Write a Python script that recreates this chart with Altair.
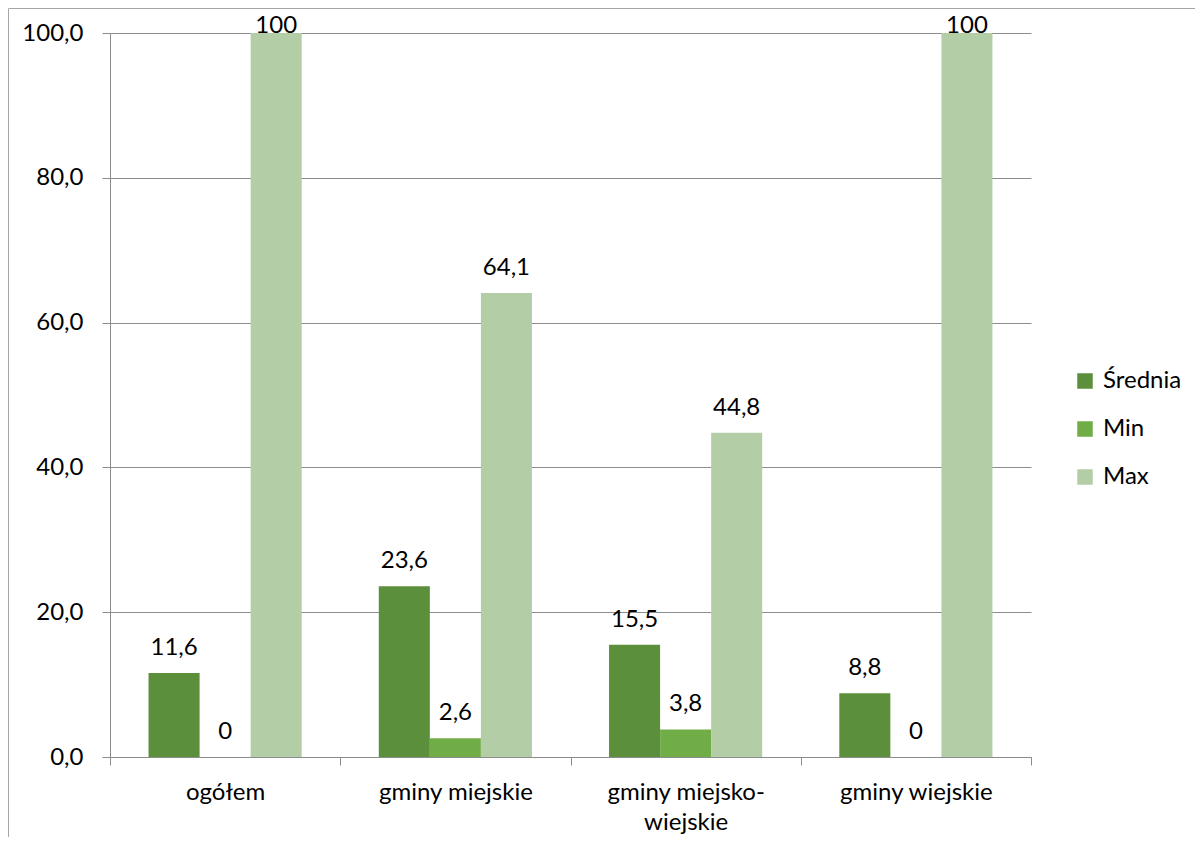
import altair as alt
import pandas as pd

categories = ["ogółem", "gminy miejskie", "gminy miejsko-wiejskie", "gminy wiejskie"]
series = ["Średnia", "Min", "Max"]
srednia = [11.6, 23.6, 15.5, 8.8]
minimum = [0, 2.6, 3.8, 0]
maximum = [100, 64.1, 44.8, 100]
colors = ["#5b8f3b", "#70ad47", "#b3cea7"]
y_ticks = [0, 20, 40, 60, 80, 100]

rows = []
for i, c in enumerate(categories):
    for s, vals in zip(series, [srednia, minimum, maximum]):
        rows.append({"category": c, "series": s, "value": vals[i]})
df = pd.DataFrame(rows)

FONT = "Lato"
FS = 24
GRAY = "#8c8c8c"

x_enc = alt.X("category:N", sort=categories, title=None,
              scale=alt.Scale(paddingInner=0, paddingOuter=0),
              axis=alt.Axis(labelAngle=0, tickBand="extent", tickSize=8,
                            tickColor=GRAY, domainColor=GRAY, labelPadding=15,
                            labelFont=FONT, labelFontSize=FS, labelColor="black",
                            labelLineHeight=30, labelLimit=400,
                            labelExpr="datum.label == 'gminy miejsko-wiejskie' ? ['gminy miejsko-', 'wiejskie'] : datum.label"))
xoff_enc = alt.XOffset("series:N", sort=series,
                       scale=alt.Scale(paddingOuter=0.755, paddingInner=0))
y_scale = alt.Scale(domain=[0, 100], nice=False)

base = alt.Chart(df)

bars = base.mark_bar().encode(
    x=x_enc,
    xOffset=xoff_enc,
    y=alt.Y("value:Q", scale=y_scale, title=None,
            axis=alt.Axis(values=y_ticks, format=".1f",
                          labelExpr="replace(datum.label, '.', ',')",
                          grid=True, gridColor=GRAY, tickSize=8, tickColor=GRAY,
                          domainColor=GRAY, labelPadding=19, labelFont=FONT,
                          labelFontSize=FS, labelColor="black")),
    color=alt.Color("series:N", sort=series,
                    scale=alt.Scale(domain=series, range=colors),
                    legend=alt.Legend(title=None, orient="none", legendX=963, legendY=336,
                                      symbolType="square", symbolSize=240,
                                      symbolStrokeWidth=0, labelFont=FONT,
                                      labelFontSize=FS, labelColor="black",
                                      rowPadding=24, labelOffset=6)),
)

labels = base.transform_calculate(
    labelY="min(datum.value + 2.5, 100)",
    txt="replace(toString(datum.value), '.', ',')",
).mark_text(font=FONT, fontSize=FS, color="black", baseline="alphabetic").encode(
    x=alt.X("category:N", sort=categories),
    xOffset=xoff_enc,
    y=alt.Y("labelY:Q", scale=y_scale),
    text="txt:N",
)

frame_data = alt.Data(values=[{}])
frame_top = alt.Chart(frame_data).mark_rule(color="#a6a6a6", strokeWidth=1).encode(
    x=alt.value(-101.5), x2=alt.value(1090), y=alt.value(-24.5))
frame_left = alt.Chart(frame_data).mark_rule(color="#a6a6a6", strokeWidth=1).encode(
    x=alt.value(-101.5), y=alt.value(-24.5), y2=alt.value(810))

chart = alt.layer(bars, labels, frame_top, frame_left).properties(
    width=921, height=724,
    autosize=alt.AutoSizeParams(type="none"),
    padding={"left": 102, "top": 25, "right": 164, "bottom": 80},
).configure_view(strokeWidth=0).configure_axis(domainWidth=1, tickWidth=1, gridWidth=1)

chart.save("out.html", embed_options={"renderer": "svg", "actions": False})
